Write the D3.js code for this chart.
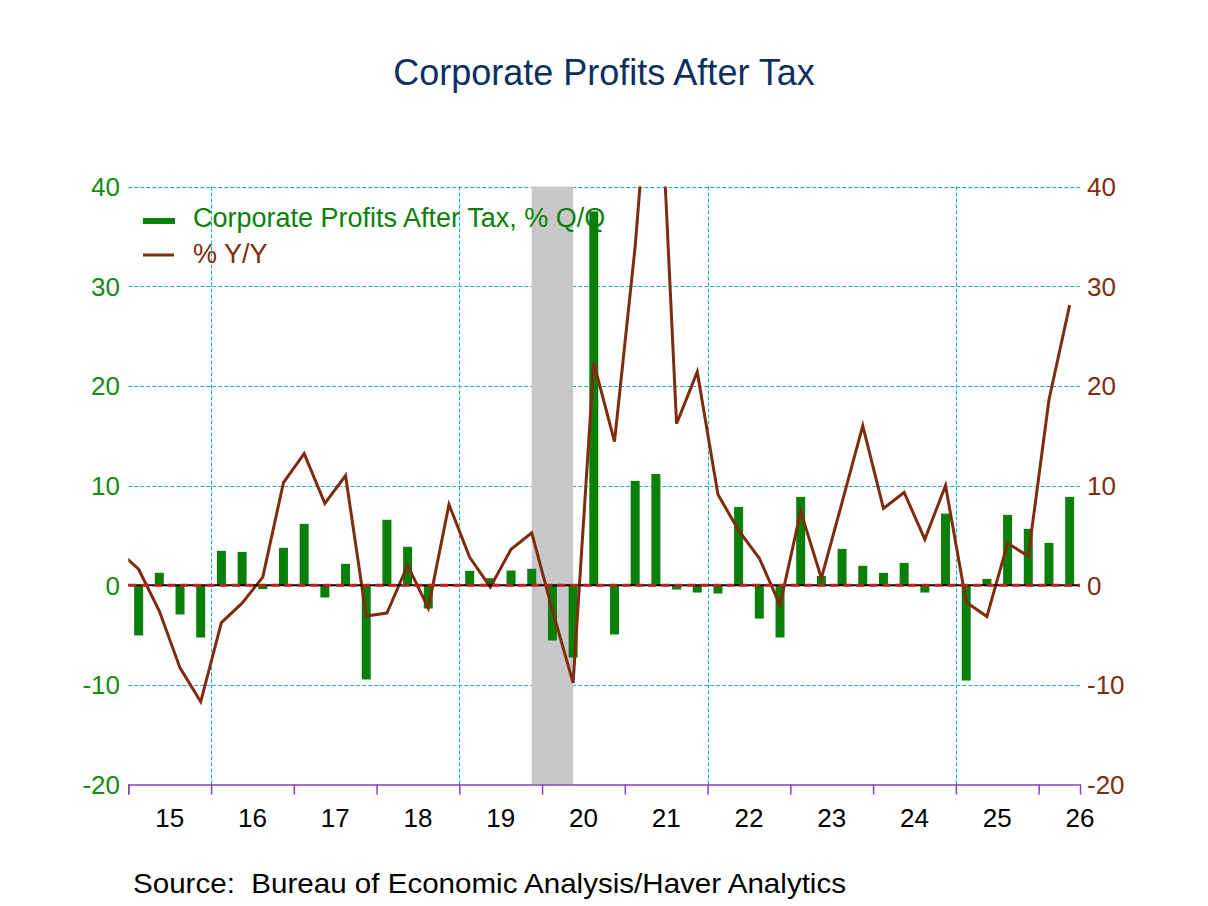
<!DOCTYPE html>
<html>
<head>
<meta charset="utf-8">
<script src="https://cdn.jsdelivr.net/npm/d3@7"></script>
<style>
  body { margin: 0; background: #fff; }
  svg { font-family: Arial, "Liberation Sans", sans-serif; }
</style>
</head>
<body>
<svg id="chart" width="1208" height="906"></svg>
<script>
// quarters from 2014Q4 (only the Y/Y line needs it, it gets clipped)
let quarters = ["2014Q4",
  "2015Q1","2015Q2","2015Q3","2015Q4","2016Q1","2016Q2","2016Q3","2016Q4",
  "2017Q1","2017Q2","2017Q3","2017Q4","2018Q1","2018Q2","2018Q3","2018Q4",
  "2019Q1","2019Q2","2019Q3","2019Q4","2020Q1","2020Q2","2020Q3","2020Q4",
  "2021Q1","2021Q2","2021Q3","2021Q4","2022Q1","2022Q2","2022Q3","2022Q4",
  "2023Q1","2023Q2","2023Q3","2023Q4","2024Q1","2024Q2","2024Q3","2024Q4",
  "2025Q1","2025Q2","2025Q3","2025Q4","2026Q1","2026Q2"]

// Corporate Profits After Tax, % Q/Q
let qoq = [null,
  -5.05, 1.24, -2.94, -5.25, 3.44, 3.34, -0.4, 3.75,
  6.15, -1.24, 2.14, -9.46, 6.56, 3.85, -2.34, 0.1,
  1.44, 0.7, 1.47, 1.64, -5.55, -7.26, 37.5, -4.95,
  10.46, 11.16, -0.44, -0.74, -0.84, 7.85, -3.35, -5.25,
  8.86, 0.93, 3.64, 1.94, 1.24, 2.24, -0.74, 7.18,
  -9.57, 0.63, 7.05, 5.65, 4.24, 8.86]

// % Y/Y
let yoy = [3.5,
  1.6, -2.6, -8.3, -11.7, -3.75, -1.8, 0.8, 10.3,
  13.2, 8.2, 11.0, -3.1, -2.8, 2.0, -2.3, 8.1,
  2.8, -0.2, 3.6, 5.25, -2.5, -9.8, 22.3, 14.4,
  34.0, 60.0, 16.2, 21.4, 9.1, 5.5, 2.7, -2.0,
  7.4, 0.7, 8.3, 16.0, 7.7, 9.3, 4.6, 10.0,
  -1.7, -3.15, 4.2, 2.9, 18.6, 28.1]

let yearLabels = ["15","16","17","18","19","20","21","22","23","24","25","26"]
let yTicks = [-20, -10, 0, 10, 20, 30, 40]
let recession = ["2019Q4", "2020Q2"]
let seriesNames = ["Corporate Profits After Tax, % Q/Q", "% Y/Y"]

function qToYear(q){
    let y = +q.slice(0, 4)
    let n = +q.slice(5)
    return y + (n - 1) / 4 + 0.125
}

function PLOT(){
    let svg = d3.select("#chart")
    let left = 128.3, right = 1080, top = 186.5, bottom = 784.5
    let green = "#0a800a", brown = "#7f2c0e", grid = "#22aec4"

    let x = d3.scaleLinear().domain([2015, 2026.5]).range([left, right])
    let y = d3.scaleLinear().domain([-20, 40]).range([bottom, top])

    let data = quarters.map((q, i) => ({t: qToYear(q), qoq: qoq[i], yoy: yoy[i]}))

    svg.append("defs").append("clipPath").attr("id", "plotclip")
        .append("rect").attr("x", left).attr("y", top).attr("width", right - left).attr("height", bottom - top)

    svg.append("text").attr("x", 604).attr("y", 85).attr("text-anchor", "middle")
        .style("font-size", "36px").style("fill", "#0c2f62").text("Corporate Profits After Tax")

    // horizontal grid
    svg.append("g").selectAll("line").data(yTicks.filter(d => d != 0 && d != -20)).enter().append("line")
        .attr("x1", left).attr("x2", right).attr("y1", d => Math.round(y(d)) + 0.5).attr("y2", d => Math.round(y(d)) + 0.5)
        .style("stroke", grid).style("stroke-width", 1).style("stroke-dasharray", "4,2")

    // vertical grid every 3 years
    svg.append("g").selectAll("line").data([2016, 2019, 2022, 2025]).enter().append("line")
        .attr("x1", d => Math.round(x(d)) + 0.5).attr("x2", d => Math.round(x(d)) + 0.5).attr("y1", top).attr("y2", bottom)
        .style("stroke", grid).style("stroke-width", 1).style("stroke-dasharray", "4,2")

    // recession shading
    svg.append("rect").attr("x", x(qToYear(recession[0]))).attr("y", top)
        .attr("width", x(qToYear(recession[1])) - x(qToYear(recession[0]))).attr("height", bottom - top)
        .style("fill", "#c8c8c8")

    let plot = svg.append("g").attr("clip-path", "url(#plotclip)")

    let bw = 9
    plot.selectAll(".bar").data(data.filter(d => d.qoq != null)).enter().append("rect")
        .attr("class", "bar")
        .attr("x", d => x(d.t) - bw / 2).attr("width", bw)
        .attr("y", d => y(Math.max(0, d.qoq)))
        .attr("height", d => Math.abs(y(d.qoq) - y(0)))
        .style("fill", green)

    // zero line
    svg.append("line").attr("x1", left).attr("x2", right).attr("y1", y(0)).attr("y2", y(0))
        .style("stroke", "#000").style("stroke-width", 2)
    svg.append("line").attr("x1", left).attr("x2", right).attr("y1", y(0)).attr("y2", y(0))
        .style("stroke", "#c42020").style("stroke-width", 3).style("stroke-dasharray", "8,5")

    let line = d3.line().x(d => x(d.t)).y(d => y(d.yoy))
    plot.append("path").datum(data).attr("d", line)
        .style("fill", "none").style("stroke", brown).style("stroke-width", 3).style("stroke-linejoin", "miter")

    // x axis
    let xAxis = d3.axisBottom(x).tickValues(d3.range(2015, 2027)).tickSize(10).tickFormat("")
    let gx = svg.append("g").attr("transform", "translate(0," + bottom + ")").call(xAxis)
    gx.select(".domain").style("stroke", "#8a3fc0").style("stroke-width", 1.5)
    gx.selectAll(".tick line").style("stroke", "#8a3fc0").style("stroke-width", 1.5)
    svg.append("g").selectAll("text").data(yearLabels).enter().append("text")
        .attr("x", (d, i) => x(2015 + i + 0.5)).attr("y", 827).attr("text-anchor", "middle")
        .style("font-size", "26px").style("fill", "#000").text(d => d)

    // y labels
    svg.append("g").selectAll("text").data(yTicks).enter().append("text")
        .attr("x", 120).attr("y", d => y(d)).attr("dy", "0.36em").attr("text-anchor", "end")
        .style("font-size", "26px").style("fill", "#168a16").text(d => d)
    svg.append("g").selectAll("text").data(yTicks).enter().append("text")
        .attr("x", 1087).attr("y", d => y(d)).attr("dy", "0.36em").attr("text-anchor", "start")
        .style("font-size", "26px").style("fill", brown).text(d => d)

    // legend
    let lg = svg.append("g")
    lg.append("rect").attr("x", 143).attr("y", 218).attr("width", 32).attr("height", 6).style("fill", green)
    lg.append("line").attr("x1", 143).attr("x2", 174).attr("y1", 255).attr("y2", 255)
        .style("stroke", brown).style("stroke-width", 3)
    lg.append("text").attr("x", 193).attr("y", 227).style("font-size", "27px").style("fill", green).text(seriesNames[0])
    lg.append("text").attr("x", 193).attr("y", 263).style("font-size", "27px").style("fill", brown).text(seriesNames[1])

    svg.append("text").attr("x", 133).attr("y", 893).attr("xml:space", "preserve")
        .attr("textLength", 713).attr("lengthAdjust", "spacingAndGlyphs")
        .style("font-size", "28px").style("fill", "#000").style("white-space", "pre")
        .text("Source:  Bureau of Economic Analysis/Haver Analytics")
}

PLOT()
</script>
</body>
</html>
